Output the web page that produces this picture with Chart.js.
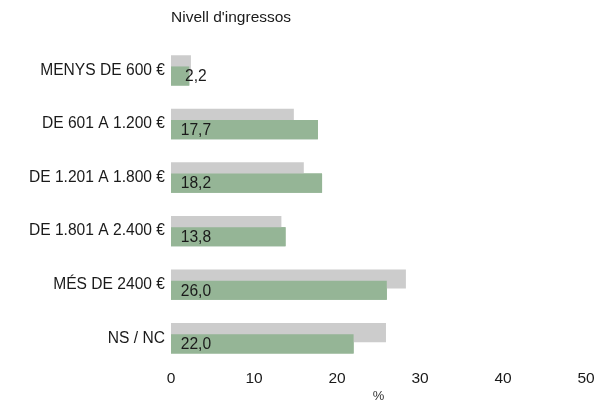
<!DOCTYPE html>
<html>
<head>
<meta charset="utf-8">
<script src="https://cdn.jsdelivr.net/npm/chart.js@4"></script>
<style>
  html, body { margin: 0; padding: 0; background: #fff; }
  #wrap { width: 616px; height: 401px; }
</style>
</head>
<body>
<div id="wrap"><canvas id="bar-chart"></canvas></div>
<script>
const categories = ['MENYS DE 600 €', 'DE 601 A 1.200 €', 'DE 1.201 A 1.800 €', 'DE 1.801 A 2.400 €', 'MÉS DE 2400 €', 'NS / NC'];
const greyValues = [2.4, 14.8, 16.0, 13.3, 28.3, 25.9];
const greenValues = [2.2, 17.7, 18.2, 13.8, 26.0, 22.0];
const xTicks = [0, 10, 20, 30, 40, 50];

const FONT = "'Liberation Sans', Arial, sans-serif";

// green bars go over the grey ones, then the value labels
const valueLabels = {
    id: 'valueLabels',
    afterDatasetsDraw(chart) {
        const ctx = chart.ctx;
        const meta = chart.getDatasetMeta(1);
        meta.controller.draw();
        const x = chart.scales.x.getPixelForValue(3);
        ctx.save();
        ctx.font = '15.6px ' + FONT;
        ctx.fillStyle = '#1a1a1a';
        ctx.textAlign = 'center';
        ctx.textBaseline = 'middle';
        meta.data.forEach((bar, i) => {
            ctx.fillText(greenValues[i].toFixed(1).replace('.', ','), x, bar.y + 1);
        });
        ctx.restore();
    }
};

const ctx = document.getElementById('bar-chart').getContext('2d');
const barChart = new Chart(ctx, {
    type: 'bar',
    data: {
        labels: categories,
        datasets: [{
            data: greyValues,
            backgroundColor: '#cccccc',
            categoryPercentage: 0.42,
            barPercentage: 1.7
        }, {
            data: greenValues,
            backgroundColor: '#95b596',
            categoryPercentage: 0.42,
            barPercentage: 1.7
        }]
    },
    options: {
        indexAxis: 'y',
        responsive: true,
        maintainAspectRatio: false,
        animation: false,
        layout: { padding: { left: 0, right: 30, top: 0, bottom: 0 } },
        plugins: {
            legend: { display: false },
            tooltip: { enabled: false },
            title: {
                display: true,
                text: "Nivell d'ingressos",
                align: 'start',
                fullSize: false,
                color: '#1a1a1a',
                font: { family: FONT, size: 15.5, weight: 'normal' },
                padding: { top: 8, bottom: 17 }
            }
        },
        scales: {
            x: {
                min: 0,
                max: 50,
                afterBuildTicks: (scale) => { scale.ticks = xTicks.map(v => ({ value: v })); },
                afterFit: (scale) => { scale.height = 36; },
                grid: { display: false, drawTicks: false },
                border: { display: false },
                ticks: {
                    padding: 4,
                    color: '#1a1a1a',
                    font: { family: FONT, size: 15.5 }
                },
                title: {
                    display: true,
                    text: '%',
                    color: '#333',
                    padding: { top: 0, bottom: -2 },
                    font: { family: FONT, size: 13, lineHeight: 1 }
                }
            },
            y: {
                grid: { display: false, drawTicks: false },
                border: { display: false },
                afterFit: (scale) => { scale.width = 171; },
                ticks: {
                    padding: 6,
                    color: '#1a1a1a',
                    font: { family: FONT, size: 15.6 }
                }
            }
        }
    },
    plugins: [valueLabels]
});
</script>
</body>
</html>
